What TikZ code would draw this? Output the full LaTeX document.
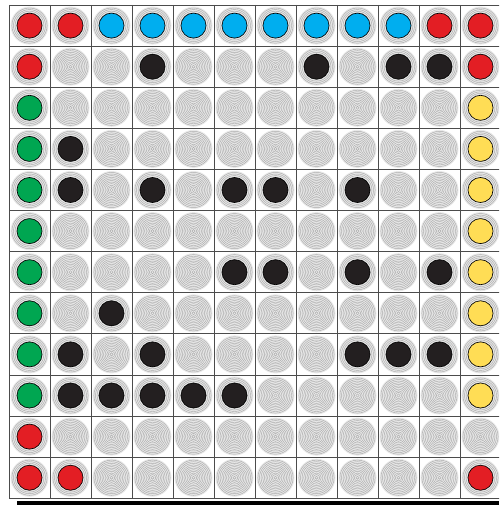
\documentclass[tikz,border=0pt]{standalone}
\usepackage{tikz}
\definecolor{dred}{HTML}{E31E24}
\definecolor{dblue}{HTML}{00AEEF}
\definecolor{dgreen}{HTML}{00A651}
\definecolor{dyellow}{HTML}{FFDD55}
\definecolor{dblack}{HTML}{231F20}
\tikzset{
  gridline/.style={draw=black!70, line width=0.8pt},
  ring/.style={draw=black!33, line width=0.45pt},
  dot/.style={circle, draw=black, line width=0.6pt, minimum size=25pt, inner sep=0pt},
}
\begin{document}
\begin{tikzpicture}[x=1pt,y=-1pt]
\useasboundingbox (0,0) rectangle (499,505);
\begin{scope}
\clip (0,0) rectangle (499,505);
% background patterns
\foreach \i in {0,...,11}{
  \foreach \j in {0,...,11}{
    \pgfmathsetmacro{\cx}{29.5+41*\i}
    \pgfmathsetmacro{\cy}{25.6+41.1*\j}
    \fill[black!9] (\cx,\cy) circle (19);
    \foreach \r in {1.6,3.2,...,19}{
      \draw[ring] (\cx,\cy) circle (\r);
    }
  }
}
% grid
\foreach \i in {0,...,12}{
  \draw[gridline] (9+41*\i,5) -- (9+41*\i,498.2);
}
\foreach \j in {0,...,12}{
  \draw[gridline] (9,5+41.1*\j) -- (505,5+41.1*\j);
}
\fill[black] (17,500.5) rectangle (499,505);
\end{scope}
% dots: col/row/color
\foreach \c/\r/\col [count=\n] in {
 0/0/dred,1/0/dred,2/0/dblue,3/0/dblue,4/0/dblue,5/0/dblue,6/0/dblue,7/0/dblue,8/0/dblue,9/0/dblue,10/0/dred,11/0/dred,
 0/1/dred,3/1/dblack,7/1/dblack,9/1/dblack,10/1/dblack,11/1/dred,
 0/2/dgreen,11/2/dyellow,
 0/3/dgreen,1/3/dblack,11/3/dyellow,
 0/4/dgreen,1/4/dblack,3/4/dblack,5/4/dblack,6/4/dblack,8/4/dblack,11/4/dyellow,
 0/5/dgreen,11/5/dyellow,
 0/6/dgreen,5/6/dblack,6/6/dblack,8/6/dblack,10/6/dblack,11/6/dyellow,
 0/7/dgreen,2/7/dblack,11/7/dyellow,
 0/8/dgreen,1/8/dblack,3/8/dblack,8/8/dblack,9/8/dblack,10/8/dblack,11/8/dyellow,
 0/9/dgreen,1/9/dblack,2/9/dblack,3/9/dblack,4/9/dblack,5/9/dblack,11/9/dyellow,
 0/10/dred,
 0/11/dred,1/11/dred,11/11/dred}{
  \node[dot, fill=\col] (d\n) at (29.5+41*\c, 25.6+41.1*\r) {};
}
\end{tikzpicture}
\end{document}
